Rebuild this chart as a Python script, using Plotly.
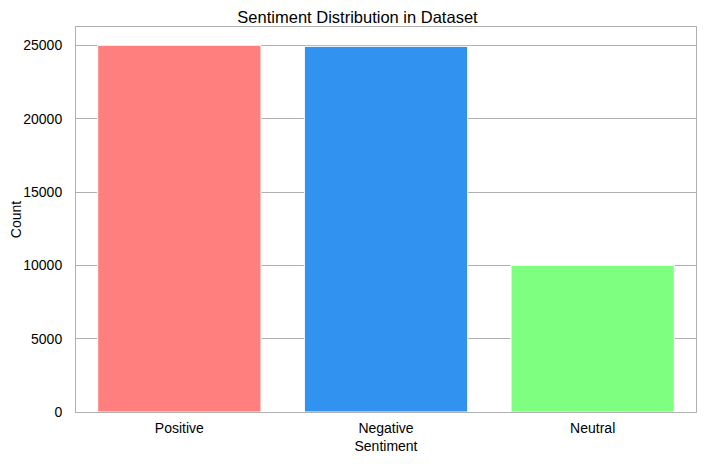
import plotly.graph_objects as go

categories = ["Positive", "Negative", "Neutral"]
counts = [25000, 24930, 10000]
colors = ["#ff7f7f", "#3292f0", "#7fff7f"]
y_ticks = [0, 5000, 10000, 15000, 20000, 25000]
y_tick_labels = [str(v) for v in y_ticks]

fig = go.Figure(
    go.Bar(
        x=categories,
        y=counts,
        marker=dict(color=colors, line=dict(color="white", width=1)),
        width=0.79,
    )
)

font = "Liberation Sans, Arial, sans-serif"
fig.update_layout(
    width=699,
    height=456,
    margin=dict(l=68, r=11, t=19, b=52),
    paper_bgcolor="white",
    plot_bgcolor="white",
    font=dict(family=font, size=14, color="black"),
    title=dict(text="Sentiment Distribution in Dataset", x=0.5, xanchor="center",
               y=1, yanchor="top", pad=dict(t=3, b=0, l=0, r=0),
               font=dict(size=16.5, family=font)),
    showlegend=False,
    xaxis=dict(
        title=dict(text="Sentiment", standoff=6, font=dict(size=14)),
        range=[-0.5, 2.5],
        showgrid=False,
        showline=True, linecolor="#b0b0b0", linewidth=1, mirror=True,
        ticks="", ticklabelstandoff=3, automargin=False,
    ),
    yaxis=dict(
        title=dict(text="Count", standoff=5, font=dict(size=14)),
        range=[0, 26250],
        tickvals=y_ticks, ticktext=y_tick_labels,
        showgrid=True, gridcolor="#b0b0b0", gridwidth=1,
        zeroline=False,
        showline=True, linecolor="#b0b0b0", linewidth=1, mirror=True,
        ticks="", ticklabelstandoff=10, automargin=False,
    ),
)

fig.write_html("out.html")
